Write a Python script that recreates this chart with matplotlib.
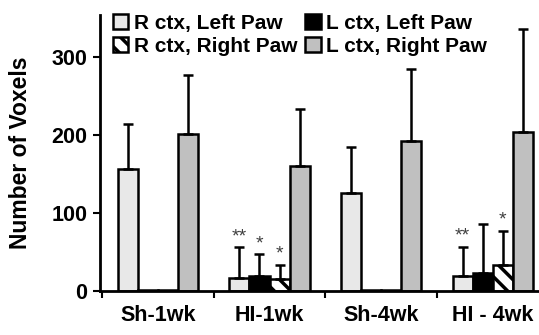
import matplotlib
matplotlib.use('Agg')
import matplotlib.pyplot as plt
import numpy as np

plt.rcParams['font.family'] = ['Liberation Sans', 'DejaVu Sans']
plt.rcParams['font.weight'] = 'bold'
plt.rcParams['hatch.linewidth'] = 2.5

groups = ['Sh-1wk', 'HI-1wk', 'Sh-4wk', 'HI - 4wk']
series = ['R ctx, Left Paw', 'L ctx, Left Paw', 'R ctx, Right Paw', 'L ctx, Right Paw']

r_left = [157, 17, 126, 20]
r_left_err = [57, 39, 59, 37]
l_left = [2, 20, 2, 23]
l_left_err = [0, 27, 0, 63]
r_right = [2, 15, 2, 33]
r_right_err = [0, 19, 0, 44]
l_right = [202, 160, 192, 204]
l_right_err = [75, 74, 93, 132]

# significance marks, per series per group
stars = [
    ['', '**', '', '**'],
    ['', '*', '', ''],
    ['', '*', '', '*'],
    ['', '', '', ''],
]

values = [r_left, l_left, r_right, l_right]
errors = [r_left_err, l_left_err, r_right_err, l_right_err]
colors = ['#e8e8e8', '#000000', '#ffffff', '#c0c0c0']
hatches = [None, None, '\\\\', None]

fig = plt.figure(figsize=(5.39, 3.35), dpi=100)
ax = fig.add_axes([0.1855, 0.131, 0.8126, 0.824])

x = np.arange(len(groups))
width = 0.18
offsets = [-0.27, -0.09, 0.09, 0.27]

bars = []
for i in range(4):
    pos = x + offsets[i]
    b = ax.bar(pos, values[i], width, color=colors[i], edgecolor='black',
               linewidth=1.8, hatch=hatches[i], label=series[i], zorder=2)
    bars.append(b)
    for j in range(len(groups)):
        if errors[i][j] > 0:
            ax.errorbar(pos[j], values[i][j], yerr=[[0], [errors[i][j]]],
                        fmt='none', ecolor='black', elinewidth=1.8,
                        capsize=3.8, capthick=1.8, zorder=3)
        if stars[i][j]:
            ax.text(pos[j], values[i][j] + errors[i][j] + 3, stars[i][j],
                    ha='center', va='bottom', fontsize=14, fontweight='normal',
                    color='#404040')

ax.set_xlim(-0.518, 3.404)
ax.set_ylim(0, 354)
ax.set_yticks([0, 100, 200, 300])
ax.set_xticks([-0.5, 0.5, 1.5, 2.5])
ax.set_xticklabels([])
ax.set_xticks(x, minor=True)
ax.set_xticklabels(groups, minor=True)
ax.tick_params(axis='x', which='minor', length=0, pad=10, labelsize=15.5)
ax.tick_params(axis='x', which='major', length=5, width=1.5, direction='out')
ax.tick_params(axis='y', length=5, width=1.5, labelsize=15.5, pad=4)

for side in ['top', 'right']:
    ax.spines[side].set_visible(False)
ax.spines['left'].set_linewidth(2)
ax.spines['bottom'].set_linewidth(2)

ax.set_ylabel('Number of Voxels', fontsize=16.5, fontweight='bold', labelpad=14)

# row-wise order in a two-column legend
order = [0, 2, 1, 3]
ax.legend([bars[k] for k in order], [series[k] for k in order],
          loc='upper left', ncol=2, frameon=False, fontsize=15,
          handlelength=0.75, handleheight=0.75, handletextpad=0.25,
          columnspacing=0.4, labelspacing=0.2, borderaxespad=0.0,
          bbox_to_anchor=(0.01, 1.035))

fig.savefig('out.png', dpi=100)
